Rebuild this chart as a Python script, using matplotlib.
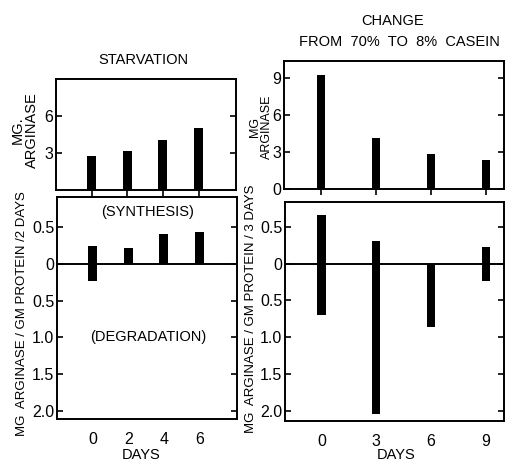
import matplotlib
matplotlib.use("Agg")
import matplotlib.pyplot as plt

# ---- data ----
starv_days = [0, 2, 4, 6]
starv_arginase = [2.78, 3.16, 4.03, 5.0]
starv_synthesis = [0.24, 0.21, 0.40, 0.43]
starv_degradation = [0.23, 0.0, 0.0, 0.0]

change_days = [0, 3, 6, 9]
change_arginase = [9.25, 4.14, 2.86, 2.32]
change_synthesis = [0.66, 0.31, 0.0, 0.23]
change_degradation = [0.70, 2.05, 0.86, 0.23]

top_left_ticks = [3, 6]
top_right_ticks = [0, 3, 6, 9]
bottom_ticks = [0.5, 0, -0.5, -1.0, -1.5, -2.0]
bottom_ticklabels = ["0.5", "0", "0.5", "1.0", "1.5", "2.0"]

FONT = ["Liberation Sans", "DejaVu Sans"]
plt.rcParams['font.family'] = FONT
FS = 10.5
TFS = 11.5

W, H = 506, 463
fig = plt.figure(figsize=(W / 100, H / 100), dpi=100)

def px_axes(x0, y0, x1, y1):
    return fig.add_axes([x0 / W, (H - y1) / H, (x1 - x0) / W, (y1 - y0) / H])

def ftext(x, y, s, **kw):
    kw.setdefault('fontsize', FS)
    kw.setdefault('ha', 'center')
    kw.setdefault('va', 'center')
    fig.text(x / W, 1 - y / H, s, **kw)

def style(ax):
    for s in ax.spines.values():
        s.set_linewidth(1.4)
    ax.tick_params(direction='in', length=4, width=1.2, labelsize=TFS,
                   right=True, pad=2)

ax1 = px_axes(56, 79, 236, 190)
ax2 = px_axes(57, 197, 237, 419)
ax3 = px_axes(284, 61, 504, 189)
ax4 = px_axes(285, 202, 504, 421)

for ax in (ax1, ax2, ax3, ax4):
    style(ax)

# top-left
ax1.bar(starv_days, starv_arginase, width=0.5, color='black')
ax1.set_xlim(-2, 8.1)
ax1.set_ylim(0, 9)
ax1.set_yticks(top_left_ticks)
ax1.set_xticks(starv_days)
ax1.tick_params(axis='x', direction='out', labelbottom=False)
ftext(25, 130, "MG.\nARGINASE", rotation=90, linespacing=1.0,
      multialignment='center')
ftext(143, 60, "STARVATION")

# bottom-left
ax2.bar(starv_days, starv_synthesis, width=0.5, color='black')
ax2.bar(starv_days, [-v for v in starv_degradation], width=0.5, color='black')
ax2.axhline(0, color='black', lw=1.4)
ax2.set_xlim(-2, 8.1)
ax2.set_ylim(-2.11, 0.91)
ax2.set_yticks(bottom_ticks)
ax2.set_yticklabels(bottom_ticklabels)
ax2.set_xticks(starv_days)
ax2.tick_params(axis='x', direction='out', length=0, pad=9)
ftext(141, 455, "DAYS")
ftext(22, 314, "MG  ARGINASE / GM PROTEIN /2 DAYS", rotation=90, fontsize=9.5)
ax2.text(3.1, 0.71, "(SYNTHESIS)", ha='center', va='center', fontsize=FS)
ax2.text(3.1, -0.99, "(DEGRADATION)", ha='center', va='center', fontsize=FS)

# top-right
ax3.bar(change_days, change_arginase, width=0.45, color='black')
ax3.set_xlim(-2, 10)
ax3.set_ylim(0, 10.4)
ax3.set_yticks(top_right_ticks)
ax3.set_xticks(change_days)
ax3.tick_params(axis='x', direction='out', labelbottom=False)
ftext(261, 127, "MG\nARGINASE", rotation=90, fontsize=9, linespacing=1.0,
      multialignment='center')
ftext(393, 21, "CHANGE")
ftext(399, 42, "FROM  70%  TO  8%  CASEIN")

# bottom-right
ax4.bar(change_days, change_synthesis, width=0.45, color='black')
ax4.bar(change_days, [-v for v in change_degradation], width=0.45, color='black')
ax4.axhline(0, color='black', lw=1.4)
ax4.set_xlim(-2, 10)
ax4.set_ylim(-2.14, 0.84)
ax4.set_yticks(bottom_ticks)
ax4.set_yticklabels(bottom_ticklabels)
ax4.set_xticks(change_days)
ax4.tick_params(axis='x', direction='out', length=0, pad=9)
ftext(396, 455, "DAYS")
ftext(251, 309, "MG  ARGINASE / GM PROTEIN / 3 DAYS", rotation=90, fontsize=9.5)

fig.savefig("out.png", dpi=100)
